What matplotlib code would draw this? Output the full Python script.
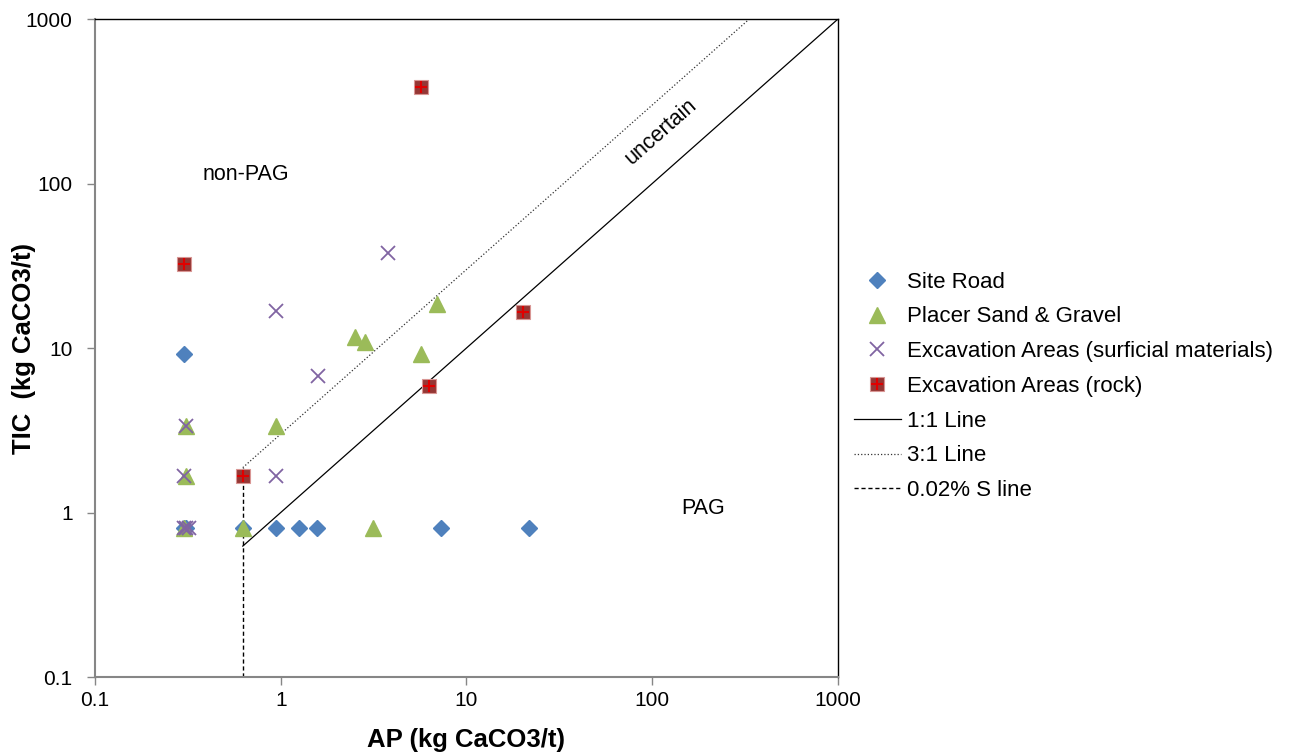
import matplotlib
matplotlib.use('Agg')
import matplotlib.pyplot as plt
from matplotlib.ticker import FixedLocator, NullLocator, FixedFormatter

plt.rcParams['font.family'] = ['Liberation Sans', 'DejaVu Sans']

# data (AP, TIC in kg CaCO3/t)
road_ap = [0.3, 0.3, 0.31, 0.625, 0.94, 1.25, 1.57, 7.3, 21.7]
road_tic = [9.2, 0.8, 0.8, 0.8, 0.8, 0.8, 0.8, 0.8, 0.8]

placer_ap = [0.3, 0.31, 0.31, 0.625, 0.94, 2.51, 2.84, 5.69, 6.94, 3.14]
placer_tic = [0.8, 1.67, 3.36, 0.8, 3.36, 11.7, 10.9, 9.2, 18.5, 0.8]

surf_ap = [0.94, 1.585, 3.78, 0.94, 0.31, 0.3, 0.3, 0.31, 0.32]
surf_tic = [16.8, 6.76, 37.8, 1.67, 3.36, 1.67, 0.8, 0.8, 0.8]

rock_ap = [0.3, 0.625, 5.69, 6.28, 20.1]
rock_tic = [32.4, 1.67, 386, 5.88, 16.5]

line11_x = [0.625, 1000]
line11_y = [0.625, 1000]
line31_x = [0.625, 333.3]
line31_y = [1.875, 1000]
sline_x = [0.625, 0.625]
sline_y = [0.1, 1.875]

ticks = [0.1, 1, 10, 100, 1000]
tick_labels = ['0.1', '1', '10', '100', '1000']

fig = plt.figure(figsize=(12.9, 7.52), dpi=100)
ax = fig.add_axes([0.0736, 0.0997, 0.5760, 0.8750])

h_road, = ax.plot(road_ap, road_tic, 'D', color='#4F81BD', ms=8, mec='#4F81BD',
                  ls='none', label='Site Road', zorder=3)
h_placer, = ax.plot(placer_ap, placer_tic, '^', color='#9BBB59', ms=11, mec='#9BBB59',
                    ls='none', label='Placer Sand & Gravel', zorder=4)
h_surf, = ax.plot(surf_ap, surf_tic, 'x', color='#8064A2', ms=10, mew=1.3,
                  ls='none', label='Excavation Areas (surficial materials)', zorder=5)
h_rock_sq, = ax.plot(rock_ap, rock_tic, 's', color='#953735', ms=9.5, mec='#D99694',
                     mew=0.8, ls='none', zorder=6)
h_rock_pl, = ax.plot(rock_ap, rock_tic, '+', color='#E00000', ms=9, mew=1.5,
                     ls='none', zorder=7)

h11, = ax.plot(line11_x, line11_y, '-', color='black', lw=0.9, label='1:1 Line', zorder=2)
h31, = ax.plot(line31_x, line31_y, ':', color='#333333', lw=0.9, label='3:1 Line', zorder=2)
hs, = ax.plot(sline_x, sline_y, '--', color='black', lw=1.0, dashes=(3, 2),
              label='0.02% S line', zorder=2)

ax.set_xscale('log')
ax.set_yscale('log')
ax.set_xlim(0.1, 1000)
ax.set_ylim(0.1, 1000)

for a in (ax.xaxis, ax.yaxis):
    a.set_major_locator(FixedLocator(ticks))
    a.set_major_formatter(FixedFormatter(tick_labels))
    a.set_minor_locator(NullLocator())
ax.tick_params(axis='both', which='major', direction='out', length=6, width=1,
               color='#868686', labelsize=15)
ax.tick_params(axis='y', pad=10)
ax.tick_params(axis='x', pad=4)

for side in ('left', 'bottom'):
    ax.spines[side].set_color('#868686')
    ax.spines[side].set_linewidth(1.5)
for side in ('top', 'right'):
    ax.spines[side].set_color('black')
    ax.spines[side].set_linewidth(1.0)

ax.set_xlabel('AP (kg CaCO3/t)', fontsize=18.5, fontweight='bold')
ax.set_ylabel('TIC  (kg CaCO3/t)', fontsize=18.5, fontweight='bold')
ax.xaxis.set_label_coords(0.5, -0.078)
ax.yaxis.set_label_coords(-0.096, 0.5)
ax.yaxis.label.set_va('center')
ax.xaxis.label.set_va('top')

ax.text(0.65, 113, 'non-PAG', fontsize=15.5, ha='center', va='center')
ax.text(188, 1.06, 'PAG', fontsize=15.5, ha='center', va='center')
ax.text(112, 206, 'uncertain', fontsize=15.5, ha='center', va='center', rotation=41.5)

leg = fig.legend([h_road, h_placer, h_surf, (h_rock_sq, h_rock_pl), h11, h31, hs],
                 ['Site Road', 'Placer Sand & Gravel', 'Excavation Areas (surficial materials)',
                  'Excavation Areas (rock)', '1:1 Line', '3:1 Line', '0.02% S line'],
                 loc='upper left', bbox_to_anchor=(0.655, 0.6507), frameon=False,
                 fontsize=16, handlelength=2.1, handletextpad=0.27, labelspacing=0.62,
                 borderaxespad=0)

plt.savefig('out.png', dpi=100)
